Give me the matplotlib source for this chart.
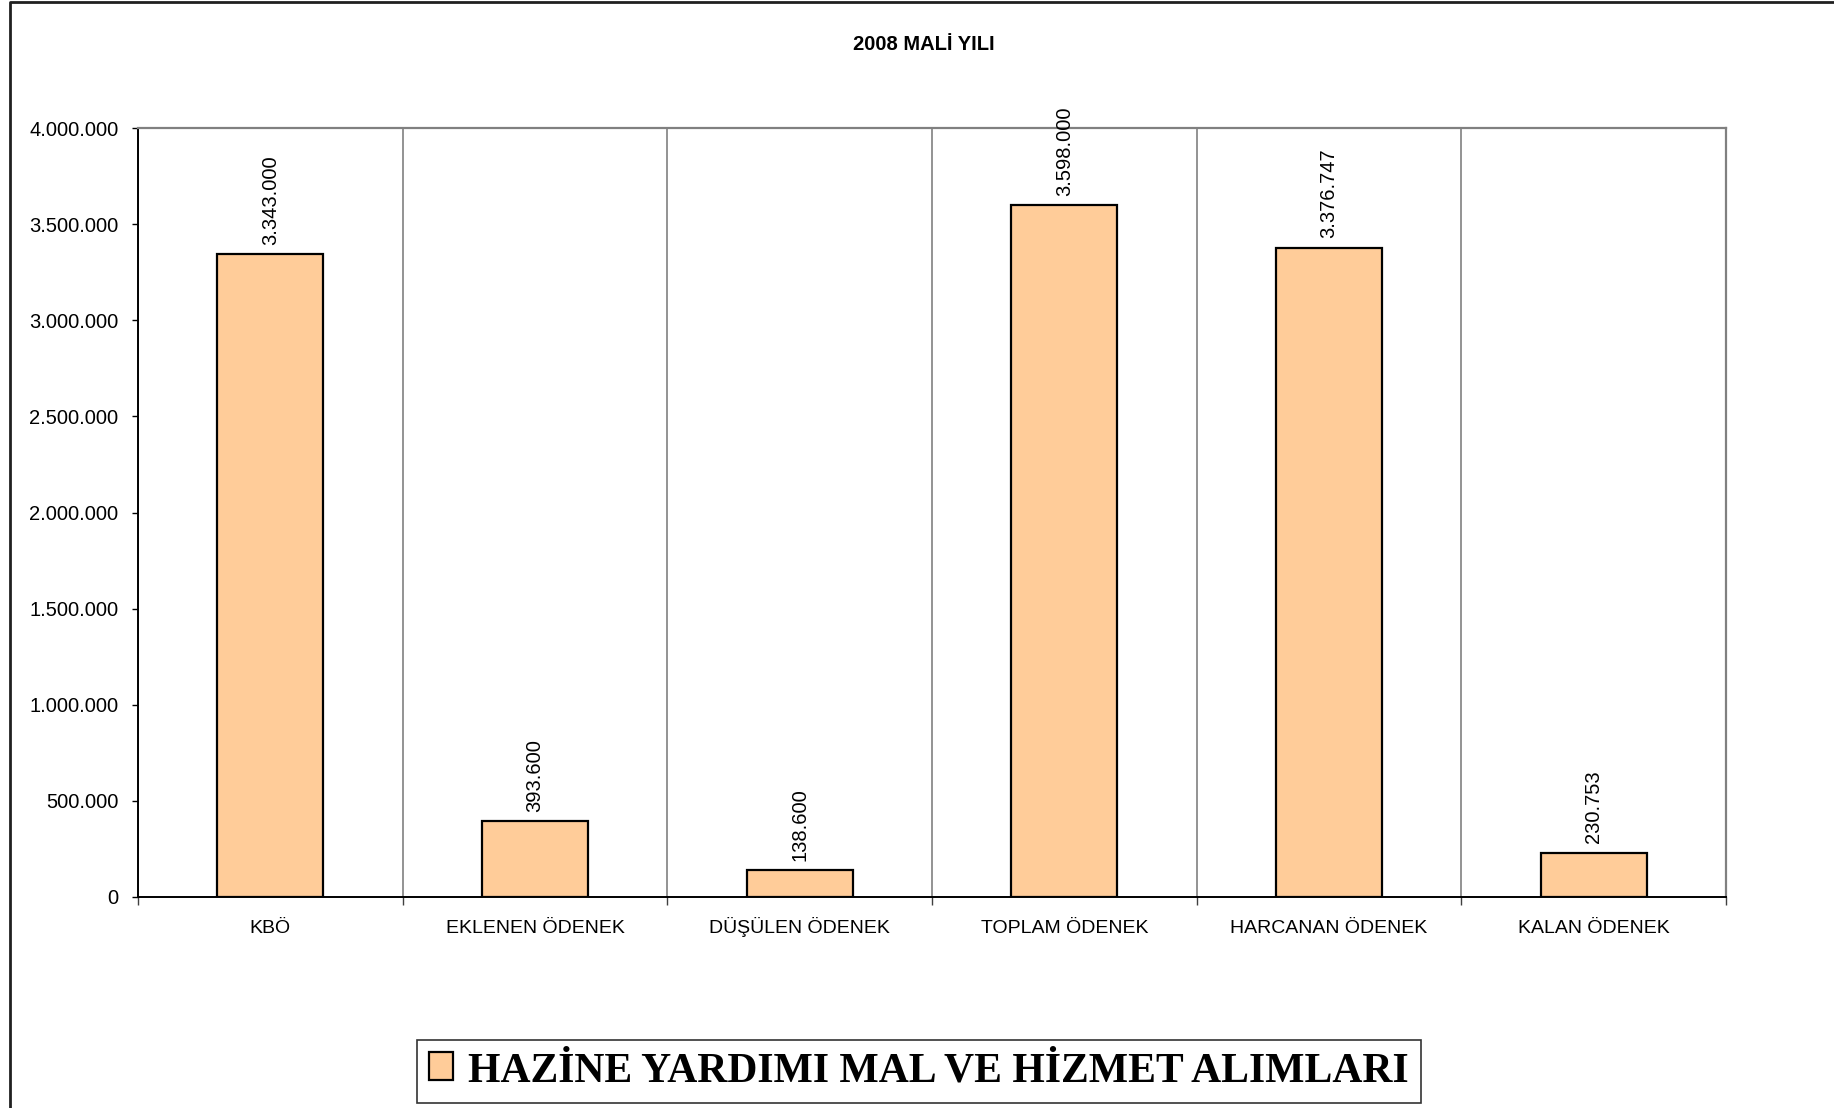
import matplotlib
matplotlib.use("Agg")
import matplotlib.pyplot as plt
from matplotlib.lines import Line2D

# data
categories = ["KBÖ", "EKLENEN ÖDENEK", "DÜŞÜLEN ÖDENEK", "TOPLAM ÖDENEK",
              "HARCANAN ÖDENEK", "KALAN ÖDENEK"]
values = [3343000, 393600, 138600, 3598000, 3376747, 230753]
yticks = [0, 500000, 1000000, 1500000, 2000000, 2500000, 3000000, 3500000, 4000000]
series_name = "HAZİNE YARDIMI MAL VE HİZMET ALIMLARI"
title = "2008 MALİ YILI"

def dotfmt(v):
    return f"{v:,}".replace(",", ".")

plt.rcParams['font.family'] = ['Liberation Sans', 'DejaVu Sans']

W, H = 1834, 1108
fig = plt.figure(figsize=(W / 100, H / 100), dpi=100)
ax = fig.add_axes([138 / W, 1 - 897 / H, (1726 - 138) / W, (897 - 128) / H])

x = list(range(len(categories)))
bars = ax.bar(x, values, width=0.4, color="#FFCC99", edgecolor="black",
              linewidth=1.6, zorder=3, label=series_name)
ax.bar_label(bars, labels=[dotfmt(v) for v in values], rotation=90,
             padding=7, fontsize=14.5)

ax.set_xlim(-0.5, len(categories) - 0.5)
ax.set_ylim(0, 4000000)
ax.set_yticks(yticks)
ax.set_yticklabels([dotfmt(v) for v in yticks], fontsize=14.5)
ax.set_xticks(x)
ax.set_xticklabels(categories, fontsize=14, va="baseline")
ax.set_xticks([i - 0.5 for i in range(len(categories) + 1)], minor=True)
ax.tick_params(axis="x", which="major", length=0, pad=26)
ax.tick_params(axis="x", which="minor", length=6, width=1, direction="out", color="#404040")
ax.tick_params(axis="y", length=4, width=1, pad=10)
ax.grid(axis="x", which="minor", color="#808080", linewidth=1.2, zorder=0)

for s in ["left", "bottom"]:
    ax.spines[s].set_color("black")
    ax.spines[s].set_linewidth(1.4)
for s in ["top", "right"]:
    ax.spines[s].set_color("#808080")
    ax.spines[s].set_linewidth(1.6)

fig.text(924 / W, 1 - 44 / H, title, ha="center", va="center",
         fontsize=14.5, fontweight="bold")

leg = fig.legend(handles=[bars], labels=[series_name], loc="center",
                 bbox_to_anchor=(919 / W, 1 - 1071 / H),
                 prop={"family": "Liberation Serif", "weight": "bold", "size": 30},
                 frameon=True, fancybox=False, edgecolor="black",
                 handlelength=0.58, handleheight=0.65, handletextpad=0.35,
                 borderpad=0.3, borderaxespad=0)
leg.get_frame().set_linewidth(1.2)

# outer chart border (left and top)
fig.add_artist(Line2D([10 / W, 10 / W, 1], [0, 1 - 1.5 / H, 1 - 1.5 / H],
                      transform=fig.transFigure, color="#202020", linewidth=2))

fig.savefig("out.png", dpi=100)
